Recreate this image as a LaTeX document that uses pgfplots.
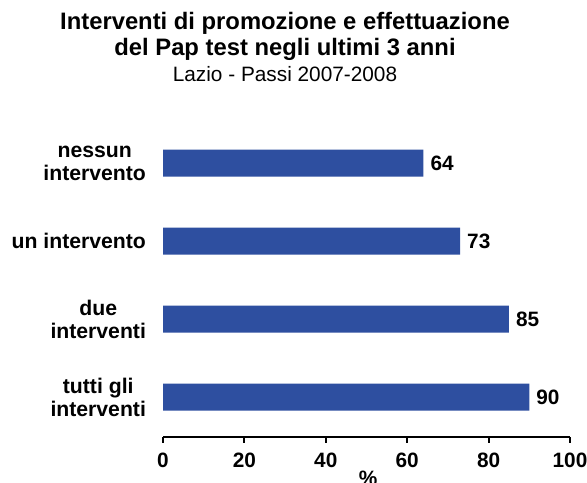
\documentclass[border=0pt]{standalone}
\usepackage{pgfplots}
\pgfplotsset{compat=1.18}
\usepackage{fontspec}
\setmainfont{Liberation Sans}
\definecolor{barblue}{RGB}{46,79,160}
\begin{document}
\begin{tikzpicture}[x=1pt,y=1pt]
\useasboundingbox (0,0) rectangle (293.5,241);
\node[font=\bfseries\fontsize{11.9}{13}\selectfont] at (142.5,229.5) {Interventi di promozione e effettuazione};
\node[font=\bfseries\fontsize{11.9}{13}\selectfont] at (142.5,216.5) {del Pap test negli ultimi 3 anni};
\node[font=\fontsize{10.4}{12}\selectfont] at (142.5,204) {Lazio - Passi 2007-2008};
\begin{axis}[
  at={(81.5pt,42.4pt)}, anchor=origin,
  x=2.035pt, y=39pt,
  xmin=0, xmax=100, ymin=-0.51, ymax=3.5,
  scale only axis,
  axis x line=bottom, axis y line=none,
  axis line style={line width=1pt, -},
  xtick={0,20,...,100},
  tick align=outside,
  major tick length=3pt,
  tick style={line width=1pt, black},
  xticklabel style={font=\bfseries\fontsize{10.4}{12}\selectfont, yshift=-1.5pt},
  /pgf/number format/assume math mode=true,
  ytick={0,1,2,3},
  yticklabels={{tutti gli\\interventi},{due\\interventi},{un intervento},{nessun\\intervento}},
  xbar, bar width=13.5pt,
  nodes near coords,
  every node near coord/.append style={font=\bfseries\fontsize{10.4}{12}\selectfont, black},
  clip=false,
]
\addplot[fill=barblue, draw=none] coordinates {(90,0) (85,1) (73,2) (64,3)};
\end{axis}
\begin{axis}[
  at={(81.5pt,42.4pt)}, anchor=origin,
  x=2.035pt, y=39pt,
  xmin=0, xmax=100, ymin=-0.51, ymax=3.5,
  scale only axis, hide x axis,
  axis y line=left, y axis line style={draw=none},
  ytick={0,1,2,3}, major tick length=0pt,
  yticklabels={{tutti gli\\interventi},{due\\interventi},{un intervento},{nessun\\intervento}},
  yticklabel style={font=\bfseries\fontsize{10.6}{11.5}\selectfont, align=center, xshift=-5pt},
]
\addplot[draw=none] coordinates {(0,0)};
\end{axis}
\node[font=\bfseries\fontsize{10.4}{12}\selectfont, anchor=north] at (184,9) {\%};
\end{tikzpicture}
\end{document}
